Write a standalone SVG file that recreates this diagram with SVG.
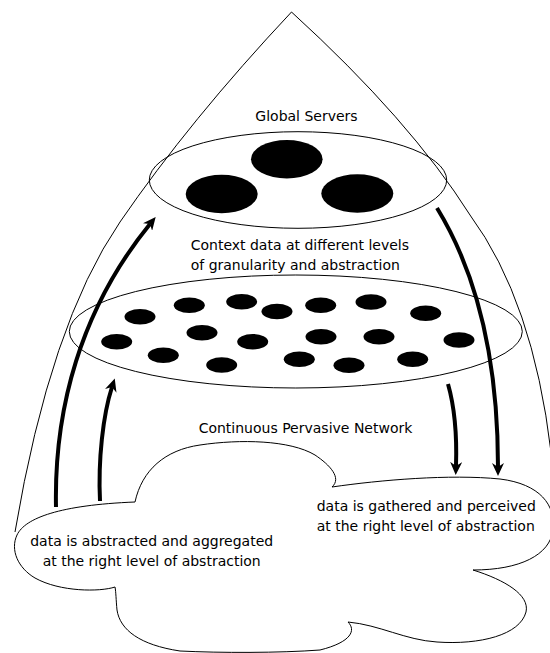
<svg xmlns="http://www.w3.org/2000/svg" width="550" height="653" viewBox="0 0 550 653">
<style>
.thin{fill:none;stroke:#000;stroke-width:1}
.srv{fill:#000}
.dot{fill:#000}
.lbl{font-family:"DejaVu Sans","Liberation Sans",sans-serif;font-size:14px;fill:#000}
.arr{fill:none;stroke:#000;stroke-width:4;marker-end:url(#ah)}
</style>
<defs>
<marker id="ah" viewBox="0 0 13 12" markerWidth="13" markerHeight="12" refX="4" refY="6" orient="auto" markerUnits="userSpaceOnUse">
<path d="M0,0 L13,6 L0,12 L4,6 z" fill="#000"/>
</marker>
</defs>
<rect width="550" height="653" fill="#fff"/>
<g id="cone">
<path class="thin" d="M291.5,12 Q190,120 120,222 Q50,324 15,532"/>
<path class="thin" d="M291.5,12 Q410,120 470,215 Q533,300.5 551,452"/>
</g>
<g id="global-servers">
<ellipse class="thin" cx="298" cy="180" rx="148.7" ry="48.3"/>
<ellipse class="srv" cx="286.8" cy="159.2" rx="35.8" ry="19.2"/>
<ellipse class="srv" cx="221.7" cy="194" rx="36" ry="19.2"/>
<ellipse class="srv" cx="357.3" cy="193.5" rx="36" ry="19.2"/>
</g>
<g id="context-data">
<ellipse class="thin" cx="295.8" cy="331.5" rx="226.5" ry="56.5"/>
<ellipse class="dot" cx="140" cy="316.7" rx="15.5" ry="7.8"/>
<ellipse class="dot" cx="189.3" cy="305.3" rx="15.5" ry="7.8"/>
<ellipse class="dot" cx="241.7" cy="301.7" rx="15.5" ry="7.8"/>
<ellipse class="dot" cx="277" cy="311.5" rx="15.5" ry="7.8"/>
<ellipse class="dot" cx="320.7" cy="305.3" rx="15.5" ry="7.8"/>
<ellipse class="dot" cx="371" cy="302" rx="15.5" ry="7.8"/>
<ellipse class="dot" cx="425.7" cy="313.3" rx="15.5" ry="7.8"/>
<ellipse class="dot" cx="202" cy="332.7" rx="15.5" ry="7.8"/>
<ellipse class="dot" cx="252.7" cy="341.7" rx="15.5" ry="7.8"/>
<ellipse class="dot" cx="321" cy="336.7" rx="15.5" ry="7.8"/>
<ellipse class="dot" cx="379" cy="336.7" rx="15.5" ry="7.8"/>
<ellipse class="dot" cx="459" cy="340" rx="15.5" ry="7.8"/>
<ellipse class="dot" cx="116.7" cy="341.7" rx="15.5" ry="7.8"/>
<ellipse class="dot" cx="163.3" cy="355.3" rx="15.5" ry="7.8"/>
<ellipse class="dot" cx="221.7" cy="365" rx="15.5" ry="7.8"/>
<ellipse class="dot" cx="299.3" cy="359.3" rx="15.5" ry="7.8"/>
<ellipse class="dot" cx="349" cy="365.3" rx="15.5" ry="7.8"/>
<ellipse class="dot" cx="412.7" cy="359.3" rx="15.5" ry="7.8"/>
</g>
<g id="network-cloud">
<path fill="#fff" stroke="#000" stroke-width="1" d="M135,502 C142,470 165,450 200,445 C240,439 290,440 315,455 C330,465 342,478 332,487 C380,480 450,474 500,479 C540,484 556,505 553,530 C550,555 520,570 473,570 C505,580 530,595 526,612 C520,635 480,645 437,642 C405,640 380,625 348,622 C356,630 352,642 320,650 C280,653 220,653 180,651 C140,645 120,630 117,610 C116,600 116,592 115,587 C100,592 60,592 35,578 C18,568 10,550 17,535 C25,518 60,505 135,502 Z"/>
</g>
<g id="connectors">
<path class="arr" d="M56,507 C54,410 80,310 150,224"/>
<path class="arr" d="M100,501 C98,460 103,415 112,387"/>
<path class="arr" d="M437,208 C478,275 498,360 498,467"/>
<path class="arr" d="M448,384 C454,405 457,435 456,466"/>
</g>
<g id="labels">
<text class="lbl" x="306.5" y="120.7" text-anchor="middle">Global Servers</text>
<text class="lbl" x="190.7" y="250">Context data at different levels</text>
<text class="lbl" x="190.7" y="269.5">of granularity and abstraction</text>
<text class="lbl" x="305.5" y="433.3" text-anchor="middle">Continuous Pervasive Network</text>
<text class="lbl" x="316.7" y="511">data is gathered and perceived</text>
<text class="lbl" x="316.7" y="530.7">at the right level of abstraction</text>
<text class="lbl" x="151.7" y="546" text-anchor="middle">data is abstracted and aggregated</text>
<text class="lbl" x="151.7" y="565.5" text-anchor="middle">at the right level of abstraction</text>
</g>
</svg>
